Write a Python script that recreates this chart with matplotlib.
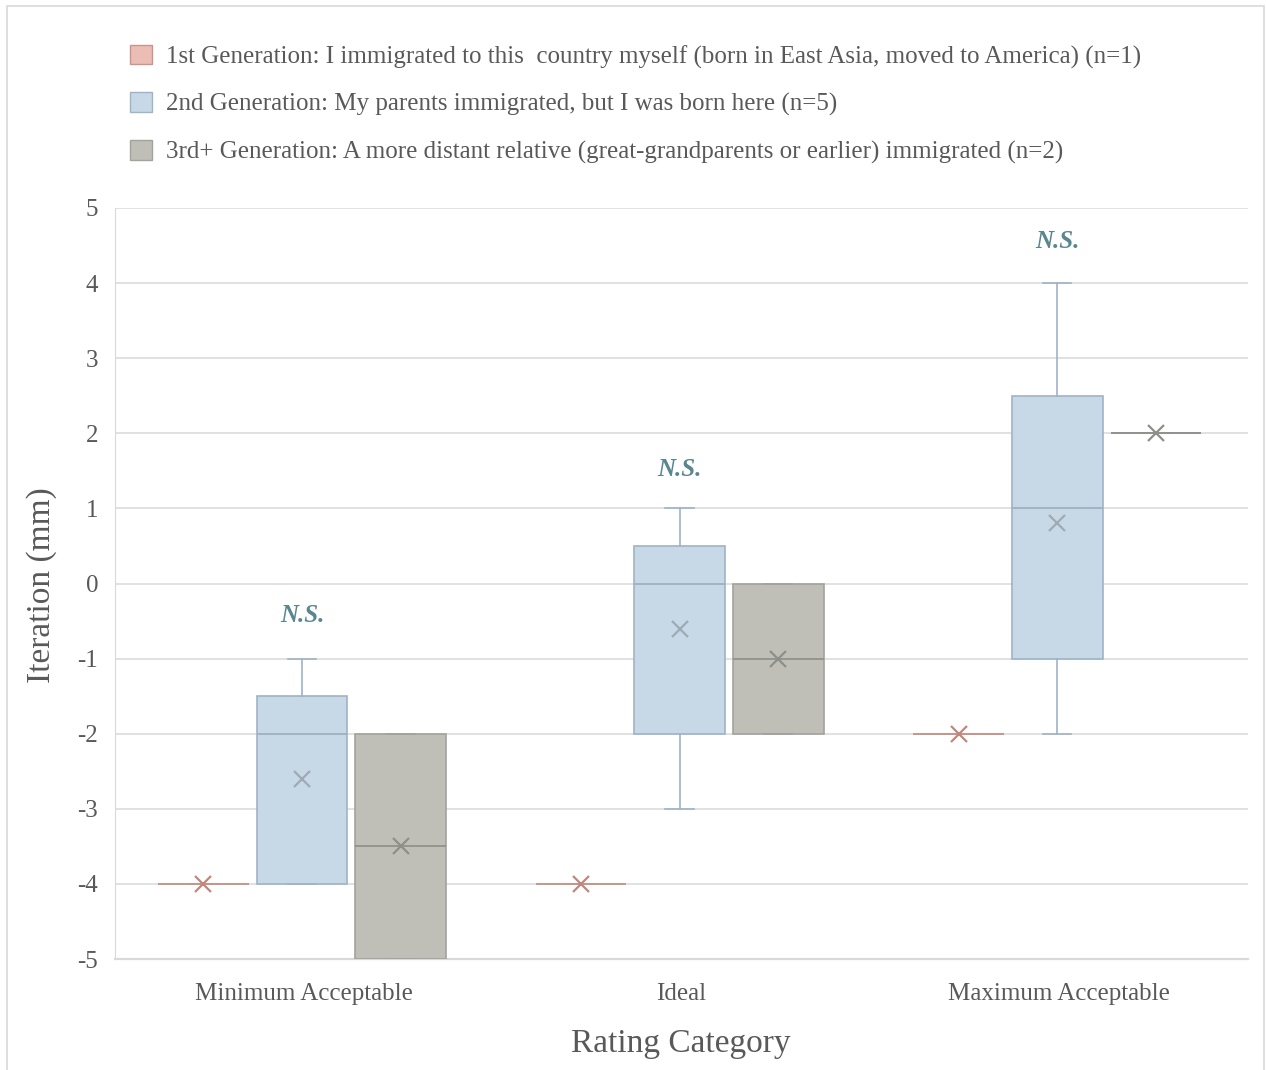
import matplotlib
matplotlib.use("Agg")
import matplotlib.pyplot as plt
from matplotlib.patches import Patch, Rectangle
import numpy as np

plt.rcParams['font.family'] = ['Liberation Serif', 'DejaVu Serif']
plt.rcParams['axes.unicode_minus'] = False

# ---- data -------------------------------------------------------------
categories = ["Minimum Acceptable", "Ideal", "Maximum Acceptable"]
series_labels = [
    "1st Generation: I immigrated to this  country myself (born in East Asia, moved to America) (n=1)",
    "2nd Generation: My parents immigrated, but I was born here (n=5)",
    "3rd+ Generation: A more distant relative (great-grandparents or earlier) immigrated (n=2)",
]

# five-number summaries per category: whisker low, q1, median, q3, whisker high
gen1_low = [-4, -4, -2]
gen1_q1 = [-4, -4, -2]
gen1_med = [-4, -4, -2]
gen1_q3 = [-4, -4, -2]
gen1_high = [-4, -4, -2]
gen1_mean = [-4, -4, -2]

gen2_low = [-4, -3, -2]
gen2_q1 = [-4, -2, -1]
gen2_med = [-2, 0, 1]
gen2_q3 = [-1.5, 0.5, 2.5]
gen2_high = [-1, 1, 4]
gen2_mean = [-2.6, -0.6, 0.8]

gen3_low = [-5, -2, 2]
gen3_q1 = [-5, -2, 2]
gen3_med = [-3.5, -1, 2]
gen3_q3 = [-2, 0, 2]
gen3_high = [-2, 0, 2]
gen3_mean = [-3.5, -1, 2]

sig_labels = ["N.S.", "N.S.", "N.S."]
sig_y = [-0.43, 1.52, 4.55]

# ---- styling ----------------------------------------------------------
fills = ["#EBBDB5", "#C7D9E7", "#BFBFB8"]
edges = ["#C8958C", "#9FB3C6", "#A3A39C"]
medians = ["#C8958C", "#9AACBE", "#8E8E88"]
mean_cols = ["#C0877E", "#9FAAB5", "#8F8F8A"]
offsets = [-0.266, -0.005, 0.256]
box_w = 0.240
text_col = "#595959"
grid_col = "#D9D9D9"

W, H = 1266, 1070
fig = plt.figure(figsize=(W / 100, H / 100), dpi=100)
ax = fig.add_axes([115 / W, 1 - 959 / H, (1248 - 115) / W, (959 - 208) / H])

groups = [
    (gen1_low, gen1_q1, gen1_med, gen1_q3, gen1_high, gen1_mean),
    (gen2_low, gen2_q1, gen2_med, gen2_q3, gen2_high, gen2_mean),
    (gen3_low, gen3_q1, gen3_med, gen3_q3, gen3_high, gen3_mean),
]

for gi, (lo, q1, med, q3, hi, mn) in enumerate(groups):
    stats = []
    for ci in range(len(categories)):
        stats.append(dict(whislo=lo[ci], q1=q1[ci], med=med[ci], q3=q3[ci],
                          whishi=hi[ci], mean=mn[ci], fliers=[]))
    pos = [ci + 0.5 + offsets[gi] for ci in range(len(categories))]
    ax.bxp(stats, positions=pos, widths=box_w, patch_artist=True,
           showmeans=True, showfliers=False, manage_ticks=False,
           boxprops=dict(facecolor=fills[gi], edgecolor=edges[gi], linewidth=1.2),
           medianprops=dict(color=medians[gi], linewidth=1.2),
           whiskerprops=dict(color=edges[gi], linewidth=1.2),
           capprops=dict(color=edges[gi], linewidth=1.2),
           capwidths=0.075,
           meanprops=dict(marker="x", markersize=12, markeredgewidth=1.6,
                          markeredgecolor=mean_cols[gi], linestyle="none"),
           zorder=3)

for ci, (lab, y) in enumerate(zip(sig_labels, sig_y)):
    ax.text(ci + 0.5 + offsets[1], y, lab, ha="center", va="center",
            fontsize=18, fontweight="bold", fontstyle="italic", color="#5A8690")

ax.set_xlim(0, 3)
ax.set_ylim(-5, 5)
ax.set_yticks(np.arange(-5, 6, 1))
ax.set_xticks([0.5, 1.5, 2.5])
ax.set_xticklabels(categories)
ax.tick_params(axis="both", length=0, labelsize=18, labelcolor=text_col)
ax.tick_params(axis="y", pad=12)
ax.tick_params(axis="x", pad=17)
ax.grid(axis="y", color=grid_col, linewidth=1.1, zorder=0)
ax.set_axisbelow(True)
for s in ["top", "right"]:
    ax.spines[s].set_visible(False)
ax.spines["left"].set_color(grid_col)
ax.spines["bottom"].set_color(grid_col)
ax.spines["bottom"].set_linewidth(1.6)

fig.text(681 / W, 1 - 1044 / H, "Rating Category", fontsize=24, color=text_col,
         ha="center", va="center")
fig.text(42 / W, 1 - 585 / H, "Iteration (mm)", fontsize=24, color=text_col,
         ha="center", va="center", rotation=90)

handles = [Patch(facecolor=fills[i], edgecolor=edges[i], linewidth=1.0) for i in range(3)]
fig.legend(handles, series_labels, loc="upper left", bbox_to_anchor=(107 / W, 1 - 22 / H),
           frameon=False, fontsize=18, labelcolor=text_col, handlelength=0.9,
           handleheight=0.85, handletextpad=0.55, labelspacing=0.95)

fig.patches.append(Rectangle((7 / W, -0.05), (1264 - 7) / W, 1.05 - 6 / H,
                             transform=fig.transFigure, fill=False,
                             edgecolor="#D9D9D9", linewidth=1.2))

fig.savefig("out.png", dpi=100, facecolor="white")
